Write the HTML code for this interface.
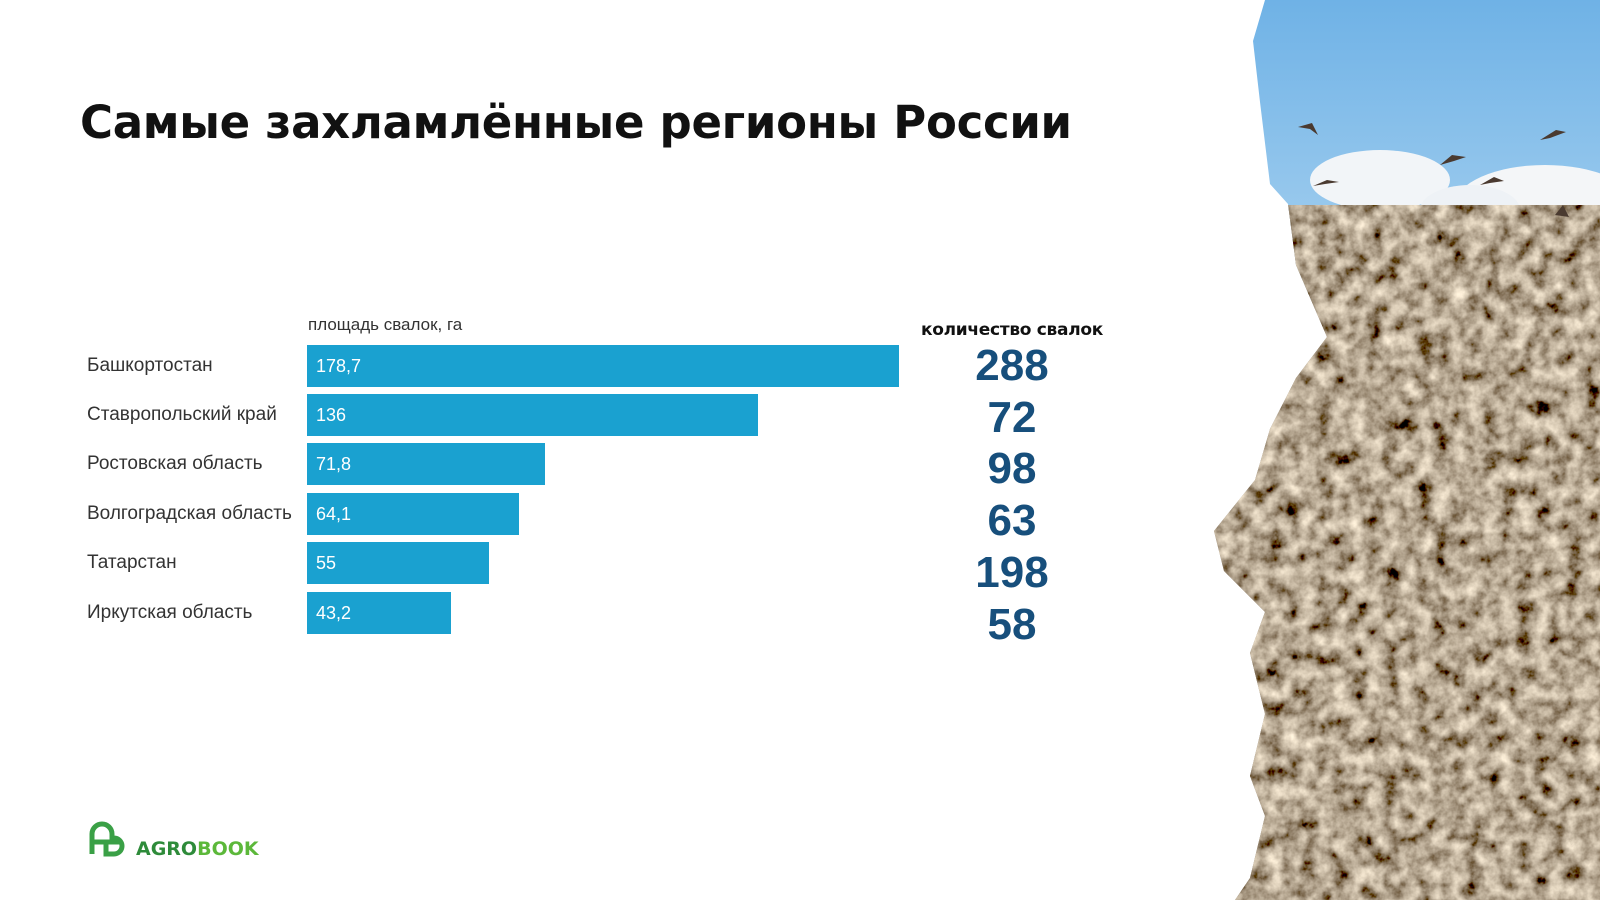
<!DOCTYPE html>
<html><head><meta charset="utf-8"><style>
body{margin:0;width:1600px;height:900px;background:#fff;position:relative;overflow:hidden;font-family:"Liberation Sans",sans-serif}
.t{position:absolute;left:80px;top:96px;font-size:45px;font-weight:bold;color:#111;font-family:"DejaVu Sans","Liberation Sans",sans-serif;letter-spacing:-0.3px}
.lab{position:absolute;left:87px;font-size:19px;color:#333;}
.bar{position:absolute;left:307px;height:42px;background:#1aa1d0;color:#fff;font-size:18px;line-height:42px;padding-left:9px;box-sizing:border-box}
.n{position:absolute;left:912px;width:200px;text-align:center;font-size:44px;font-weight:bold;color:#174f7c;font-family:"Liberation Sans",sans-serif;line-height:50px}
</style></head><body>
<div class="t">Самые захламлённые регионы России</div>
<div class="lab" style="left:308px;top:315px;font-size:17px">площадь свалок, га</div>
<div style="position:absolute;left:912px;width:200px;text-align:center;top:320px;font-size:17px;font-weight:bold;color:#111;font-family:'DejaVu Sans',sans-serif;letter-spacing:-0.3px">количество свалок</div>

<div class="lab" style="top:355px">Башкортостан</div>
<div class="lab" style="top:404px">Ставропольский край</div>
<div class="lab" style="top:453px">Ростовская область</div>
<div class="lab" style="top:503px">Волгоградская область</div>
<div class="lab" style="top:552px">Татарстан</div>
<div class="lab" style="top:602px">Иркутская область</div>

<div class="bar" style="top:345px;width:592px">178,7</div>
<div class="bar" style="top:394px;width:451px">136</div>
<div class="bar" style="top:443px;width:238px">71,8</div>
<div class="bar" style="top:493px;width:212px">64,1</div>
<div class="bar" style="top:542px;width:182px">55</div>
<div class="bar" style="top:592px;width:144px">43,2</div>

<div class="n" style="top:341px">288</div>
<div class="n" style="top:393px">72</div>
<div class="n" style="top:444px">98</div>
<div class="n" style="top:496px">63</div>
<div class="n" style="top:548px">198</div>
<div class="n" style="top:600px">58</div>

<svg style="position:absolute;left:0;top:0" width="1600" height="900">
<defs>
<clipPath id="c"><path d="M1265,0 L1253,41 L1260,102 L1270,184 L1288,204 L1296,265 L1327,337 L1296,378 L1270,429 L1255,480 L1214,531 L1224,571 L1265,612 L1250,653 L1265,714 L1250,776 L1265,816 L1250,878 L1235,900 L1600,900 L1600,0 Z"/></clipPath>
<linearGradient id="sky" x1="0" y1="0" x2="0" y2="1"><stop offset="0" stop-color="#6fb2e6"/><stop offset="1" stop-color="#a9d2f0"/></linearGradient>
<filter id="tx" x="0" y="0" width="100%" height="100%">
<feTurbulence type="fractalNoise" baseFrequency="0.06" numOctaves="4" seed="4"/>
<feColorMatrix type="matrix" values="1.4 0 0 0 -0.24  1.3 0 0 0 -0.27  1.1 0 0 0 -0.27  0 0 0 0 1"/>
</filter>
</defs>
<g clip-path="url(#c)">
<rect x="1180" y="0" width="420" height="300" fill="url(#sky)"/>
<ellipse cx="1380" cy="180" rx="70" ry="30" fill="#f2f5f8"/>
<ellipse cx="1545" cy="205" rx="90" ry="40" fill="#f4f6f8"/>
<ellipse cx="1470" cy="210" rx="50" ry="25" fill="#eef2f6"/>
<path d="M1180,205 L1300,205 L1450,240 L1520,270 L1600,285 L1600,900 L1180,900 Z" fill="#8a7b64"/>
<path d="M1180,205 L1300,205 L1450,240 L1520,270 L1600,285 L1600,900 L1180,900 Z" fill="#8c7e66" filter="url(#tx)"/>
</g>
<g fill="#4a3a30">
<path d="M1298,127 l14,-4 l6,12 l-8,-6z"/><path d="M1313,186 l14,-6 l12,2 l-14,2z"/>
<path d="M1440,165 l12,-10 l14,2 l-12,4z"/><path d="M1480,185 l14,-8 l10,4 l-14,2z"/>
<path d="M1540,140 l16,-10 l10,2 l-16,6z"/><path d="M1555,215 l8,-10 l6,12z"/>
</g>
</svg>

<svg style="position:absolute;left:88px;top:820px" width="180" height="40">
<path d="M4,34 V14 a10,10 0 0 1 20,0 V24 M4,22 H34 M18,22 V34 H26 a8,8 0 0 0 0,-16" fill="none" stroke="#3aa046" stroke-width="5"/>
<text x="48" y="35" font-family="DejaVu Sans,sans-serif" font-weight="bold" font-size="19" fill="#2e8b3a">AGRO<tspan fill="#5cb83a">BOOK</tspan></text>
</svg>
</body></html>
